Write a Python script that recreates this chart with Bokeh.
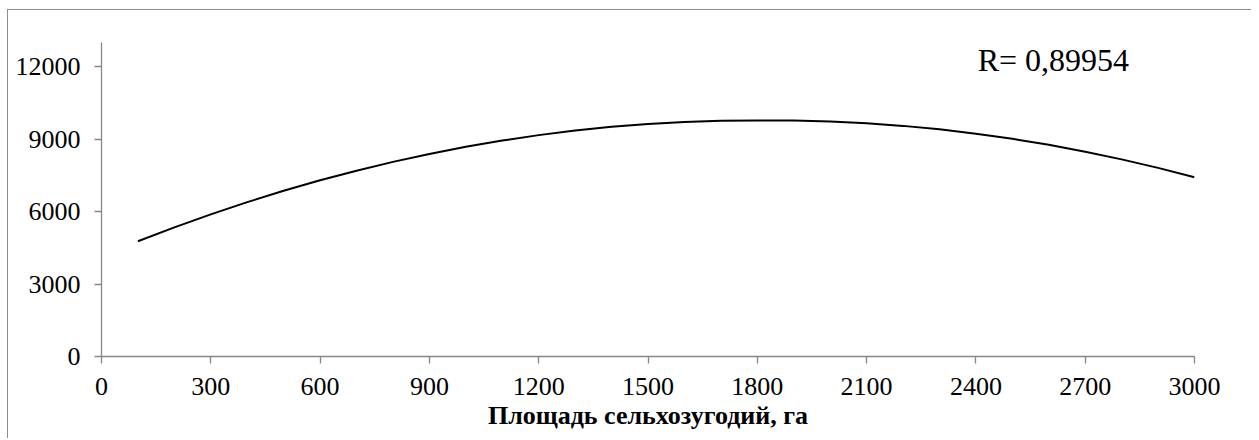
from bokeh.plotting import figure
from bokeh.models import Range1d, FixedTicker, Label, ColumnDataSource
from bokeh.embed import file_html
from bokeh.resources import INLINE

area = [100, 200, 300, 400, 500, 600, 700, 800, 900, 1000, 1100, 1200, 1300, 1400, 1500,
        1600, 1700, 1800, 1900, 2000, 2100, 2200, 2300, 2400, 2500, 2600, 2700, 2800, 2900, 3000]
value = [4771, 5346, 5885, 6390, 6859, 7294, 7693, 8058, 8387, 8682, 8941, 9165, 9354, 9509, 9628,
         9712, 9761, 9775, 9769, 9730, 9657, 9548, 9405, 9226, 9013, 8764, 8481, 8162, 7809, 7420]
x_ticks = [0, 300, 600, 900, 1200, 1500, 1800, 2100, 2400, 2700, 3000]
y_ticks = [0, 3000, 6000, 9000, 12000]
x_title = "Площадь сельхозугодий, га"
r_text = "R= 0,89954"

FONT = "Liberation Serif"
AX = "#868686"

p = figure(width=1244, height=429, output_backend="svg", toolbar_location=None,
           x_range=Range1d(0, 3000), y_range=Range1d(0, 13000),
           min_border_left=93, min_border_right=58, min_border_top=32, min_border_bottom=83)
p.margin = (9, 0, 0, 7)
p.styles = {"border-left": "1px solid #8c8c8c", "border-top": "1px solid #8c8c8c"}
p.outline_line_color = None
p.grid.visible = False
p.background_fill_color = "white"
p.border_fill_color = "white"

src = ColumnDataSource(dict(x=area, y=value))
p.line("x", "y", source=src, line_color="black", line_width=2)

for ax in (p.xaxis[0], p.yaxis[0]):
    ax.axis_line_color = AX
    ax.axis_line_width = 1.3
    ax.major_tick_line_color = AX
    ax.major_tick_line_width = 1.3
    ax.major_tick_in = 0
    ax.major_tick_out = 7
    ax.minor_tick_line_color = None
    ax.major_label_text_font = FONT
    ax.major_label_text_font_size = "26px"
    ax.major_label_text_color = "black"

p.xaxis[0].ticker = FixedTicker(ticks=x_ticks)
p.yaxis[0].ticker = FixedTicker(ticks=y_ticks)
p.xaxis[0].major_label_standoff = 14
p.yaxis[0].major_label_standoff = 14
p.xaxis[0].axis_label = x_title
p.xaxis[0].axis_label_text_font = FONT
p.xaxis[0].axis_label_text_font_style = "bold"
p.xaxis[0].axis_label_text_font_size = "26px"
p.xaxis[0].axis_label_text_color = "black"
p.xaxis[0].axis_label_standoff = 3

p.add_layout(Label(x=2405, y=12290, text=r_text, text_font=FONT,
                   text_font_size="32px", text_color="black", text_baseline="alphabetic"))

open("out.html", "w").write(file_html(p, INLINE))
